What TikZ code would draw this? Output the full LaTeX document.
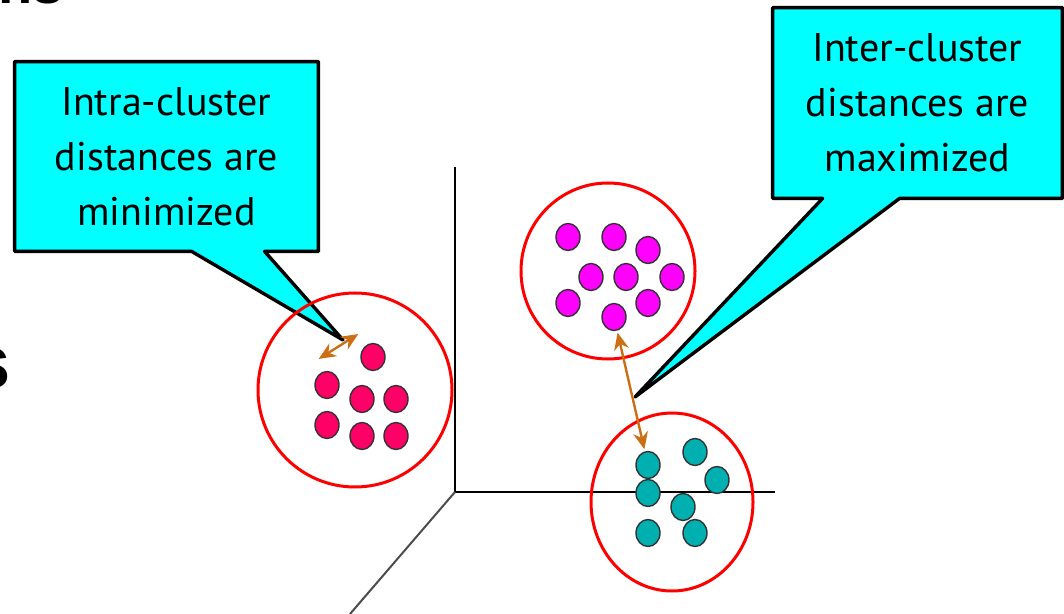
\documentclass[tikz,border=0pt]{standalone}
\usepackage{fontspec}
\setmainfont{Liberation Sans}
\newfontfamily\bubblefont{PT Sans}
\usetikzlibrary{shapes.geometric,arrows.meta,calc,backgrounds}
\definecolor{bubblecyan}{RGB}{0,255,255}
\definecolor{ringred}{RGB}{255,0,0}
\definecolor{dotpink}{RGB}{255,0,102}
\definecolor{dotmag}{RGB}{255,0,255}
\definecolor{dotteal}{RGB}{0,176,176}
\definecolor{arrbrown}{RGB}{204,110,20}
\tikzset{
  bubbletext/.style={align=center,inner sep=0pt,font=\bubblefont\fontsize{20}{27.5}\selectfont},
  bubble/.style={draw=black,fill=bubblecyan,line width=1.7pt,line join=round},
  ring/.style={draw=ringred,line width=1.5pt},
  dot/.style={draw=black!80,line width=0.7pt,ellipse,minimum width=12pt,minimum height=13.5pt,inner sep=0pt},
  darr/.style={{Stealth[length=3mm,width=2.6mm]}-{Stealth[length=3mm,width=2.6mm]},draw=arrbrown,line width=1.2pt,shorten <=1pt,shorten >=1pt},
  axis/.style={draw=black,line width=1pt},
  frag/.style={font=\bfseries\fontsize{38}{38}\selectfont,inner sep=0pt}
}
\begin{document}
\begin{tikzpicture}[x=0.5pt,y=-0.5pt]
\useasboundingbox (0,0) rectangle (1064,614);
\node[frag,anchor=base west] (topfrag) at (-2,4) {\fontsize{28}{28}\selectfont ns};
\node[frag,anchor=base east] (leftfrag) at (11,388) {s};
\coordinate (origin) at (455,492);
\coordinate (ytop) at (455,167);
\coordinate (xend) at (775,492);
\coordinate (zend) at (350,614);
\draw[axis] (ytop) -- (origin) -- (xend);
\draw[axis,draw=black!70] (origin) -- (zend);
\node[ring,circle,minimum size=97pt,inner sep=0pt] (c1) at (355,390) {};
\node[ring,ellipse,minimum width=87pt,minimum height=88pt,inner sep=0pt] (c2) at (608,271) {};
\node[ring,ellipse,minimum width=81pt,minimum height=89pt,inner sep=0pt] (c3) at (672,502) {};
\foreach \x/\y [count=\i] in {373/357,327/385,362/399,396/399,327/425,362/436,396/436}
  \node[dot,fill=dotpink] (p\i) at (\x,\y) {};
\foreach \x/\y [count=\i] in {568/237,614/237,648/250,591/277,626/277,672/277,568/303,648/303,614/317}
  \node[dot,fill=dotmag] (m\i) at (\x,\y) {};
\foreach \x/\y [count=\i] in {648/465,695/452,717/480,648/493,683/507,648/533,695/533}
  \node[dot,fill=dotteal] (t\i) at (\x,\y) {};
\node[bubbletext,minimum width=151.5pt,minimum height=94.5pt] (intra) at (166.5,156.5) {Intra-cluster\\distances are\\minimized};
\node[bubbletext,minimum width=144.5pt,minimum height=95pt] (inter) at (917.5,103) {Inter-cluster\\distances are\\maximized};
\coordinate (itip) at (343,340);
\coordinate (etip) at (635,397);
\begin{scope}[on background layer]
\draw[bubble] (intra.north west) -- (intra.north east) -- (intra.south east) -- ($(intra.south west)+(250,0)$) -- (itip) -- ($(intra.south west)+(177,0)$) -- (intra.south west) -- cycle;
\draw[bubble] (inter.north west) -- (inter.north east) -- (inter.south east) -- ($(inter.south west)+(127,0)$) -- (etip) -- ($(inter.south west)+(50,0)$) -- (inter.south west) -- cycle;
\end{scope}
\coordinate (ia) at (317,360);
\coordinate (ib) at (360,333);
\draw[darr] (ia) -- (ib);
\draw[darr] (m9) -- (t1);
\end{tikzpicture}
\end{document}
